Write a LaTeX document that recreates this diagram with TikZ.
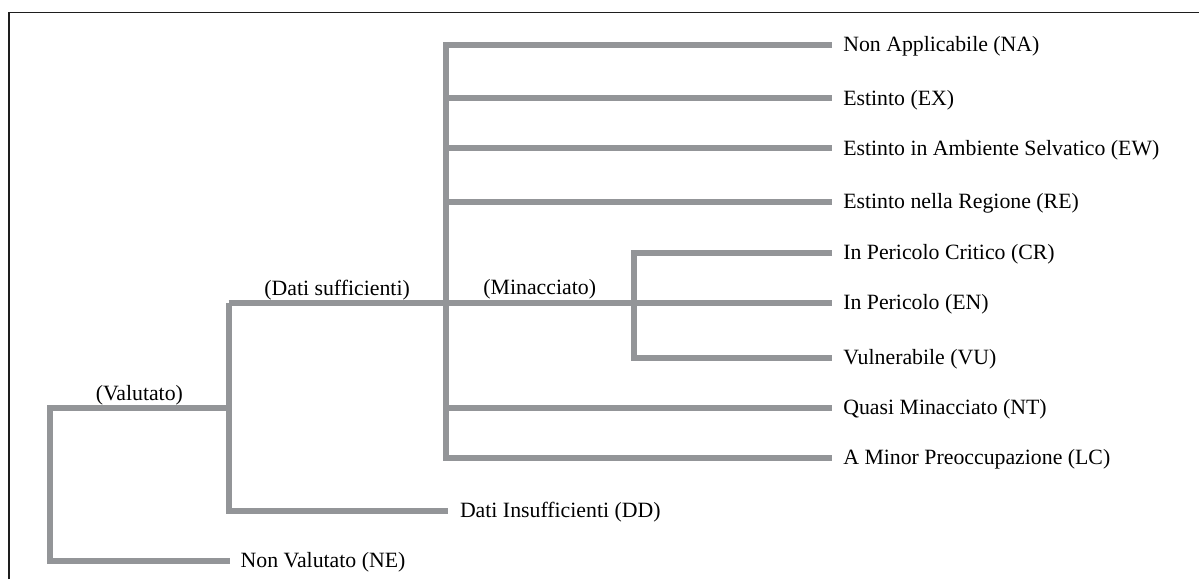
\documentclass[tikz,border=0pt]{standalone}
\usepackage{fontspec}
\setmainfont{Liberation Serif}
\usetikzlibrary{calc}
\definecolor{branchgray}{RGB}{147,149,152}
\definecolor{framedark}{RGB}{30,30,30}
\begin{document}
\begin{tikzpicture}[x=1pt,y=-1pt,
  br/.style={draw=branchgray,line width=6pt,line join=miter,line cap=butt},
  lab/.style={inner sep=0pt,outer sep=0pt,text=black,font=\fontsize{21.8}{26}\selectfont},
  leaf/.style={lab,anchor=base west},
  tag/.style={lab,anchor=base}]
\useasboundingbox (0,0) rectangle (1199,579);
\fill[white] (0,0) rectangle (1199,579);
% frame (top and left edges)
\draw[framedark,line width=1.2pt] (9,579) -- (9,12.3) -- (1199,12.3);
% junction coordinates
\coordinate (sNA) at (445.5,45);
\coordinate (sEX) at (445.5,98.3);
\coordinate (sEW) at (445.5,148.3);
\coordinate (sRE) at (445.5,201.5);
\coordinate (sEN) at (445.5,303);
\coordinate (sNT) at (445.5,408);
\coordinate (sLC) at (445.5,458);
\coordinate (cCR) at (634,252.5);
\coordinate (cEN) at (634,303);
\coordinate (cVU) at (634,357.5);
\coordinate (dTop) at (228.7,303);
\coordinate (dVal) at (228.7,408);
\coordinate (dDD) at (228.7,511);
\coordinate (vTop) at (50,408);
\coordinate (vNE) at (50,561);
% line ends
\coordinate (eNA) at (832,45);
\coordinate (eEX) at (832,98.3);
\coordinate (eEW) at (832,148.3);
\coordinate (eRE) at (832,201.5);
\coordinate (eCR) at (832,252.5);
\coordinate (eEN) at (832,303);
\coordinate (eVU) at (832,357.5);
\coordinate (eNT) at (832,408);
\coordinate (eLC) at (832,458);
\coordinate (eDD) at (448.3,511);
\coordinate (eNE) at (230,561);
% leaf labels
\node[leaf] (NA) at ([xshift=11.3pt,yshift=-6.7pt]eNA) {Non Applicabile (NA)};
\node[leaf] (EX) at ([xshift=11.3pt,yshift=-6.7pt]eEX) {Estinto (EX)};
\node[leaf] (EW) at ([xshift=11.3pt,yshift=-6.7pt]eEW) {Estinto in Ambiente Selvatico (EW)};
\node[leaf] (RE) at ([xshift=11.3pt,yshift=-6.7pt]eRE) {Estinto nella Regione (RE)};
\node[leaf] (CR) at ([xshift=11.3pt,yshift=-6.7pt]eCR) {In Pericolo Critico (CR)};
\node[leaf] (EN) at ([xshift=11.3pt,yshift=-6.7pt]eEN) {In Pericolo (EN)};
\node[leaf] (VU) at ([xshift=11.3pt,yshift=-6.7pt]eVU) {Vulnerabile (VU)};
\node[leaf] (NT) at ([xshift=11.3pt,yshift=-6.7pt]eNT) {Quasi Minacciato (NT)};
\node[leaf] (LC) at ([xshift=11.3pt,yshift=-6.7pt]eLC) {A Minor Preoccupazione (LC)};
\node[leaf] (DD) at ([xshift=11.7pt,yshift=-6.5pt]eDD) {Dati Insufficienti (DD)};
\node[leaf] (NE) at ([xshift=10.7pt,yshift=-6.5pt]eNE) {Non Valutato (NE)};
% branch labels
\node[tag] (lDS) at ([yshift=8pt]$(dTop)!0.5!(sEN)$) {(Dati sufficienti)};
\node[tag] (lMI) at ([yshift=8.5pt]$(sEN)!0.5!(cEN)$) {(Minacciato)};
\node[tag] (lVA) at ([yshift=8pt]$(vTop)!0.5!(dVal)$) {(Valutato)};
% branches
\draw[br] (eNA) -- (sNA) -- (sLC) -- (eLC);
\draw[br] (sEX) -- (eEX);
\draw[br] (sEW) -- (eEW);
\draw[br] (sRE) -- (eRE);
\draw[br] (sNT) -- (eNT);
\draw[br] (dTop) -- (eEN);
\draw[br] (eCR) -- (cCR) -- (cVU) -- (eVU);
\draw[br] (dTop) -- (dDD) -- (eDD);
\draw[br] (dVal) -- (vTop) -- (vNE) -- (eNE);
\end{tikzpicture}
\end{document}
